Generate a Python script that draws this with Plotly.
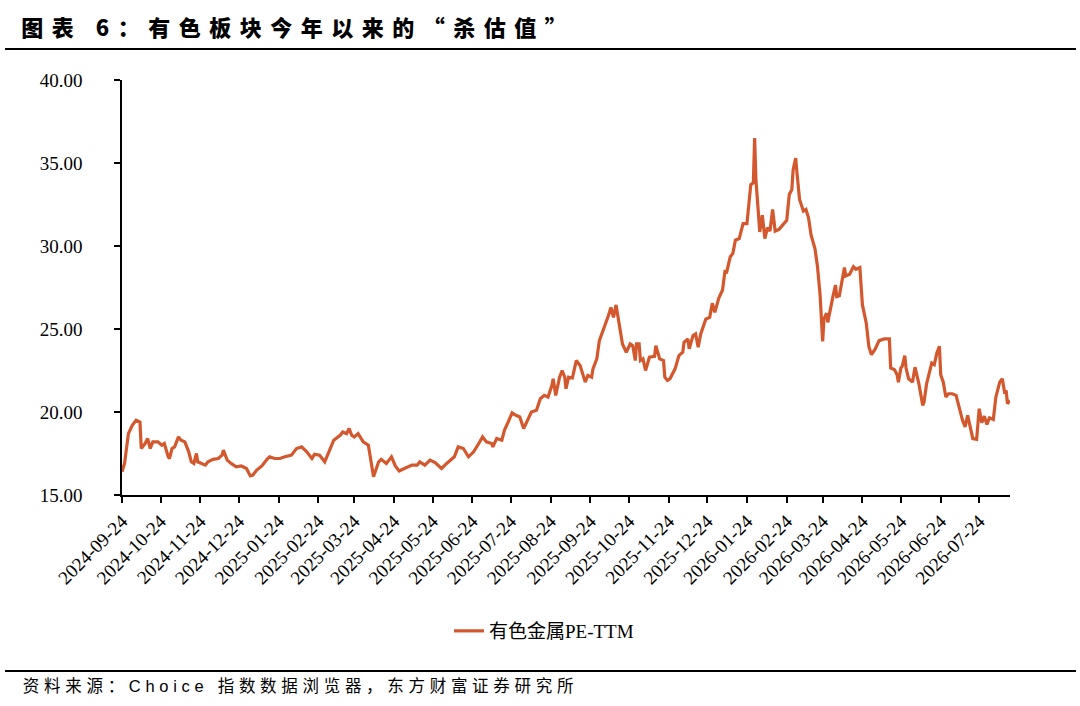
"""
有色板块 PE-TTM 走势图（杀估值）
"""

import pandas as pd
import plotly.graph_objects as go

# 日期和 PE-TTM 读数
dates = [
    "2024-09-24", "2024-09-26", "2024-09-29", "2024-10-02", "2024-10-05", "2024-10-08",
    "2024-10-09", "2024-10-12", "2024-10-14", "2024-10-16", "2024-10-18", "2024-10-22",
    "2024-10-25", "2024-10-27", "2024-10-30", "2024-10-31", "2024-11-02", "2024-11-04",
    "2024-11-07", "2024-11-09", "2024-11-12", "2024-11-15", "2024-11-17", "2024-11-19",
    "2024-11-21", "2024-11-22", "2024-11-25", "2024-11-28", "2024-11-30", "2024-12-04",
    "2024-12-08", "2024-12-11", "2024-12-12", "2024-12-15", "2024-12-18", "2024-12-22",
    "2024-12-26", "2024-12-30", "2025-01-02", "2025-01-04", "2025-01-07", "2025-01-11",
    "2025-01-15", "2025-01-17", "2025-01-21", "2025-01-25", "2025-01-29", "2025-02-03",
    "2025-02-07", "2025-02-11", "2025-02-15", "2025-02-19", "2025-02-21", "2025-02-25",
    "2025-03-01", "2025-03-05", "2025-03-08", "2025-03-13", "2025-03-15", "2025-03-18",
    "2025-03-20", "2025-03-22", "2025-03-24", "2025-03-27", "2025-03-31", "2025-04-04",
    "2025-04-06", "2025-04-08", "2025-04-12", "2025-04-14", "2025-04-18", "2025-04-22",
    "2025-04-25", "2025-04-28", "2025-05-02", "2025-05-08", "2025-05-12", "2025-05-14",
    "2025-05-18", "2025-05-22", "2025-05-26", "2025-05-31", "2025-06-04", "2025-06-08",
    "2025-06-10", "2025-06-13", "2025-06-17", "2025-06-21", "2025-06-25", "2025-06-29",
    "2025-07-02", "2025-07-05", "2025-07-09", "2025-07-10", "2025-07-13", "2025-07-17",
    "2025-07-19", "2025-07-22", "2025-07-25", "2025-07-28", "2025-07-31", "2025-08-03",
    "2025-08-06", "2025-08-09", "2025-08-13", "2025-08-16", "2025-08-19", "2025-08-22",
    "2025-08-25", "2025-08-26", "2025-08-28", "2025-08-31", "2025-09-02", "2025-09-04",
    "2025-09-05", "2025-09-07", "2025-09-10", "2025-09-13", "2025-09-16", "2025-09-20",
    "2025-09-22", "2025-09-25", "2025-09-26", "2025-09-29", "2025-10-01", "2025-10-04",
    "2025-10-08", "2025-10-10", "2025-10-12", "2025-10-14", "2025-10-16", "2025-10-17",
    "2025-10-19", "2025-10-22", "2025-10-25", "2025-10-27", "2025-10-29", "2025-10-30",
    "2025-11-01", "2025-11-02", "2025-11-04", "2025-11-06", "2025-11-09", "2025-11-13",
    "2025-11-14", "2025-11-17", "2025-11-20", "2025-11-21", "2025-11-23", "2025-11-25",
    "2025-11-29", "2025-12-02", "2025-12-05", "2025-12-06", "2025-12-09", "2025-12-10",
    "2025-12-13", "2025-12-15", "2025-12-17", "2025-12-19", "2025-12-23", "2025-12-26",
    "2025-12-28", "2025-12-30", "2026-01-02", "2026-01-05", "2026-01-07", "2026-01-08",
    "2026-01-11", "2026-01-13", "2026-01-15", "2026-01-18", "2026-01-21", "2026-01-24",
    "2026-01-26", "2026-01-27", "2026-01-29", "2026-01-30", "2026-01-31", "2026-02-02",
    "2026-02-03", "2026-02-05", "2026-02-07", "2026-02-09", "2026-02-11", "2026-02-13",
    "2026-02-15", "2026-02-18", "2026-02-24", "2026-02-26", "2026-02-28", "2026-03-01",
    "2026-03-03", "2026-03-04", "2026-03-05", "2026-03-06", "2026-03-09", "2026-03-11",
    "2026-03-13", "2026-03-15", "2026-03-18", "2026-03-20", "2026-03-22", "2026-03-23",
    "2026-03-24", "2026-03-25", "2026-03-27", "2026-03-28", "2026-03-30", "2026-04-01",
    "2026-04-03", "2026-04-04", "2026-04-06", "2026-04-08", "2026-04-10", "2026-04-11",
    "2026-04-14", "2026-04-17", "2026-04-19", "2026-04-22", "2026-04-24", "2026-04-27",
    "2026-04-29", "2026-05-01", "2026-05-04", "2026-05-07", "2026-05-11", "2026-05-15",
    "2026-05-16", "2026-05-19", "2026-05-21", "2026-05-22", "2026-05-24", "2026-05-25",
    "2026-05-27", "2026-05-28", "2026-05-30", "2026-06-02", "2026-06-04", "2026-06-07",
    "2026-06-10", "2026-06-11", "2026-06-13", "2026-06-17", "2026-06-19", "2026-06-21",
    "2026-06-23", "2026-06-24", "2026-06-26", "2026-06-28", "2026-06-30", "2026-07-03",
    "2026-07-06", "2026-07-09", "2026-07-11", "2026-07-13", "2026-07-15", "2026-07-17",
    "2026-07-19", "2026-07-22", "2026-07-24", "2026-07-26", "2026-07-28", "2026-07-30",
    "2026-08-01", "2026-08-04", "2026-08-06", "2026-08-09", "2026-08-11", "2026-08-13",
    "2026-08-14", "2026-08-15", "2026-08-17",
]

pe = [
    16.4, 16.9, 18.7, 19.2, 19.5, 19.4,
    17.8, 18.1, 18.4, 17.8, 18.2, 18.2,
    18.0, 18.1, 17.3, 17.2, 17.8, 17.9,
    18.5, 18.3, 18.2, 17.6, 17.0, 16.9,
    17.5, 17.0, 16.9, 16.8, 17.0, 17.15,
    17.2, 17.4, 17.7, 17.1, 16.9, 16.7,
    16.75, 16.6, 16.15, 16.2, 16.5, 16.75,
    17.15, 17.3, 17.2, 17.2, 17.3, 17.4,
    17.8, 17.9, 17.6, 17.2, 17.45, 17.4,
    17.0, 17.7, 18.3, 18.6, 18.8, 18.7,
    19.0, 18.6, 18.5, 18.7, 18.2, 18.0,
    17.1, 16.1, 17.0, 17.15, 16.9, 17.3,
    16.75, 16.45, 16.6, 16.8, 16.8, 17.0,
    16.8, 17.1, 16.95, 16.6, 16.9, 17.2,
    17.3, 17.9, 17.8, 17.3, 17.6, 18.1,
    18.5, 18.2, 18.1, 17.9, 18.4, 18.3,
    18.9, 19.4, 19.95, 19.8, 19.7, 19.0,
    19.5, 20.0, 20.1, 20.8, 21.0, 20.9,
    21.6, 22.0, 21.0, 22.1, 22.5, 22.1,
    21.4, 22.1, 22.05, 23.1, 22.8, 21.8,
    22.2, 22.1, 22.6, 23.2, 24.3, 24.9,
    25.8, 26.3, 25.7, 26.45, 25.5, 24.9,
    24.1, 23.6, 24.1, 24.0, 23.1, 24.1,
    24.1, 23.1, 23.2, 22.5, 23.3, 23.35,
    24.0, 23.2, 23.1, 22.1, 21.9, 22.0,
    22.6, 23.4, 23.6, 24.2, 24.4, 23.8,
    24.6, 24.7, 23.9, 24.7, 25.6, 25.7,
    26.55, 26.0, 26.85, 27.35, 28.55, 28.35,
    29.35, 29.55, 30.35, 30.45, 31.35, 31.35,
    32.95, 33.7, 33.8, 36.5, 34.0, 32.2,
    30.85, 31.85, 30.45, 31.1, 30.9, 32.2,
    30.9, 31.0, 31.55, 33.1, 33.4, 34.6,
    35.3, 34.4, 33.3, 32.8, 32.1, 32.2,
    31.7, 30.65, 29.85, 28.75, 27.05, 25.75,
    24.25, 25.6, 25.95, 25.4, 26.3, 26.95,
    27.65, 26.95, 27.0, 27.75, 28.7, 28.2,
    28.3, 28.75, 28.6, 28.7, 26.45, 25.35,
    23.95, 23.45, 23.8, 24.3, 24.4, 24.4,
    22.65, 22.55, 22.25, 21.8, 22.65, 22.75,
    23.4, 22.65, 22.0, 21.8, 22.7, 21.7,
    20.4, 20.6, 21.7, 22.95, 22.85, 23.55,
    23.95, 22.25, 21.8, 20.9, 21.1, 21.1,
    21.0, 20.1, 19.5, 19.1, 19.8, 19.1,
    18.4, 18.35, 20.2, 19.35, 19.75, 19.25,
    19.65, 19.55, 20.9, 21.8, 22.0, 21.1,
    21.3, 20.5, 20.7,
]

# 每月 24 日的刻度
tick_dates = pd.date_range("2024-09-01", "2026-07-01", freq="MS") + pd.Timedelta(days=23)
y_ticks = [15, 20, 25, 30, 35, 40]

title = "图表 6：有色板块今年以来的“杀估值”"
source = "资料来源：Choice 指数数据浏览器，东方财富证券研究所"
series_name = "有色金属PE-TTM"

W, H = 1080, 706
L, R, T, B = 122, 70, 80, 211
pw, ph = W - L - R, H - T - B


def px_x(x):
    return (x - L) / pw


def px_y(y):
    return (H - B - y) / ph


fig = go.Figure()
fig.add_trace(go.Scatter(
    x=pd.to_datetime(dates), y=pe, mode="lines", name=series_name,
    line=dict(color="#D4582E", width=3.2),
))

serif = "Liberation Serif, Times New Roman, Noto Sans CJK SC"

fig.update_layout(
    width=W, height=H,
    margin=dict(l=L, r=R, t=T, b=B),
    paper_bgcolor="white", plot_bgcolor="white",
    showlegend=True,
    legend=dict(
        orientation="h", x=px_x(544), y=px_y(631),
        xanchor="center", yanchor="middle",
        font=dict(family=serif, size=19, color="black"),
    ),
    xaxis=dict(
        type="date",
        range=["2024-09-24", "2026-08-17"],
        tickvals=tick_dates, tickformat="%Y-%m-%d", tickangle=-45,
        showline=True, linecolor="black", linewidth=1.5,
        ticks="outside", ticklen=6, tickwidth=1.5, tickcolor="black",
        showgrid=False, zeroline=False,
        tickfont=dict(family=serif, size=19, color="black"),
    ),
    yaxis=dict(
        range=[15, 40], tickvals=y_ticks, tickformat=".2f",
        showline=True, linecolor="black", linewidth=1.5,
        ticks="outside", ticklen=6, tickwidth=1.5, tickcolor="black",
        ticklabelstandoff=28,
        showgrid=False, zeroline=False,
        tickfont=dict(family=serif, size=19, color="black"),
    ),
    shapes=[
        dict(type="line", xref="paper", yref="paper",
             x0=px_x(5), x1=px_x(1076), y0=px_y(49), y1=px_y(49),
             line=dict(color="black", width=2)),
        dict(type="line", xref="paper", yref="paper",
             x0=px_x(5), x1=px_x(1076), y0=px_y(671), y1=px_y(671),
             line=dict(color="black", width=2)),
    ],
    annotations=[
        # 加了字间距后文字按中心对齐，所以用中心点定位
        dict(text=title, xref="paper", yref="paper",
             x=px_x(298), y=px_y(26), xanchor="center", yanchor="middle",
             showarrow=False,
             font=dict(family="Noto Sans CJK SC", size=22, weight=900, color="black")),
        dict(text=source, xref="paper", yref="paper",
             x=px_x(300), y=px_y(686), xanchor="center", yanchor="middle",
             showarrow=False,
             font=dict(family="Liberation Sans, Noto Sans CJK SC", size=16.5, color="black")),
    ],
)

# 去掉页面边距，并给标题和来源加字间距
page_js = """
var s = document.createElement('style');
s.textContent = 'body{margin:0}'
  + 'g.annotation[data-index="0"] text{letter-spacing:8.5px}'
  + 'g.annotation[data-index="1"] text{letter-spacing:4.7px}';
document.head.appendChild(s);
"""

fig.write_html("out.html", post_script=page_js, config={"displayModeBar": False})
